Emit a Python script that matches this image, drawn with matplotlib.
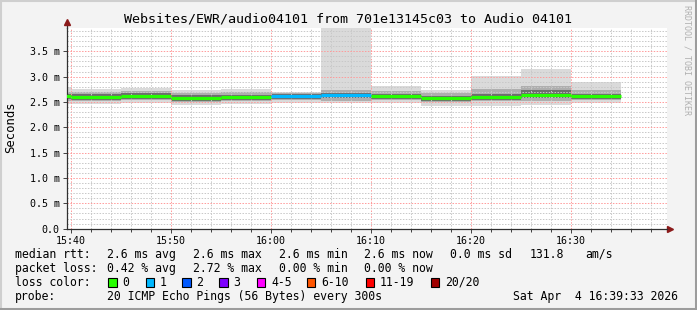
import matplotlib
matplotlib.use("Agg")
import matplotlib.pyplot as plt
from matplotlib.patches import Rectangle
from matplotlib.lines import Line2D

# 5 minute rounds, start minute after 15:00
slot_start = [35, 40, 45, 50, 55, 60, 65, 70, 75, 80, 85, 90]
slot_len = 5
# values in ms
median = [2.62, 2.60, 2.62, 2.57, 2.59, 2.61, 2.63, 2.61, 2.57, 2.60, 2.63, 2.61]
loss = [0, 0, 0, 0, 0, 1, 1, 0, 0, 0, 0, 0]
smoke_lo = [2.45, 2.46, 2.48, 2.44, 2.46, 2.47, 2.48, 2.47, 2.42, 2.42, 2.44, 2.47]
smoke_hi = [2.80, 2.75, 2.77, 2.73, 2.75, 2.70, 4.50, 2.81, 2.73, 3.01, 3.15, 2.90]
mid_lo = [2.52, 2.52, 2.54, 2.50, 2.52, 2.53, 2.52, 2.53, 2.49, 2.51, 2.52, 2.53]
mid_hi = [2.70, 2.69, 2.71, 2.67, 2.69, 2.67, 2.73, 2.72, 2.67, 2.76, 2.82, 2.74]
core_lo = [2.56, 2.54, 2.56, 2.52, 2.54, 2.56, 2.57, 2.55, 2.52, 2.54, 2.58, 2.56]
core_hi = [2.66, 2.65, 2.67, 2.63, 2.64, 2.65, 2.67, 2.65, 2.62, 2.66, 2.74, 2.66]

loss_labels = ["0", "1", "2", "3", "4-5", "6-10", "11-19", "20/20"]
loss_colors = ["#26ff00", "#00b8ff", "#0059ff", "#7e00ff", "#ff00ff", "#ff5500", "#ff0000", "#a10000"]

W, H = 697, 310
mono = "DejaVu Sans Mono"


def px(x):
    return x / W


def py(y):
    return 1 - y / H


fig = plt.figure(figsize=(W / 100, H / 100), dpi=100, facecolor="#f3f3f3")

# plot area in pixels
left, right, top, bottom = 66.5, 666.5, 28.3, 228.7
ax = fig.add_axes([px(left), py(bottom), px(right - left), (bottom - top) / H])
ax.set_facecolor("white")
ax.set_xlim(39.58, 99.58)
ax.set_ylim(0, 3.953)

# smoke
edges = slot_start + [slot_start[-1] + slot_len]
ax.fill_between(edges, smoke_lo + [smoke_lo[-1]], smoke_hi + [smoke_hi[-1]],
                step="post", color="#dadada", lw=0, zorder=1)
ax.fill_between(edges, mid_lo + [mid_lo[-1]], mid_hi + [mid_hi[-1]],
                step="post", color="#aeaeae", lw=0, zorder=1)
ax.fill_between(edges, core_lo + [core_lo[-1]], core_hi + [core_hi[-1]],
                step="post", color="#6e6e6e", lw=0, zorder=1)

# median line coloured by loss
for s, m, l in zip(slot_start, median, loss):
    ax.hlines(m, s, s + slot_len, color=loss_colors[l], lw=2.3, zorder=3)

# grid and ticks
ax.set_xticks(range(40, 100, 10))
ax.set_xticks(range(40, 100, 2), minor=True)
ax.set_xticklabels(["15:40", "15:50", "16:00", "16:10", "16:20", "16:30"])
yt = [0, 0.5, 1.0, 1.5, 2.0, 2.5, 3.0, 3.5]
ax.set_yticks(yt)
ax.set_yticks([i / 10 for i in range(0, 40)], minor=True)
ax.set_yticklabels(["0.0"] + ["%.1f m" % v for v in yt[1:]])
ax.set_axisbelow("line")
ax.grid(which="minor", color="#c8c8c8", lw=0.7, ls=(0, (1.5, 1.5)))
ax.grid(which="major", color="#ff9a9a", lw=0.7, ls=(0, (1.5, 1.5)))
ax.tick_params(axis="both", which="major", labelsize=7.2, length=3, width=0.7,
               color="#404040", pad=2)
ax.tick_params(axis="x", which="minor", length=2, width=0.7, color="#404040")
ax.tick_params(axis="y", which="minor", length=0)
for lab in ax.get_xticklabels() + ax.get_yticklabels():
    lab.set_fontfamily(mono)
for s in ["top", "right"]:
    ax.spines[s].set_visible(False)
for s in ["left", "bottom"]:
    ax.spines[s].set_color("#303030")
    ax.spines[s].set_linewidth(0.9)

# axis arrows
ax.plot([0, 0], [1, 1.025], transform=ax.transAxes, color="#303030", lw=0.9, clip_on=False)
ax.plot([1, 1.004], [0, 0], transform=ax.transAxes, color="#303030", lw=0.9, clip_on=False)
ax.plot([0], [1.03], transform=ax.transAxes, marker="^", ms=5, color="#8b1a1a", clip_on=False)
ax.plot([1.006], [0], transform=ax.transAxes, marker=">", ms=5, color="#8b1a1a", clip_on=False)

fig.text(px(348.5), py(19), "Websites/EWR/audio04101 from 701e13145c03 to Audio 04101",
         ha="center", va="center", fontsize=9.6, family=mono)
fig.text(px(11), py(127), "Seconds", rotation=90, ha="center", va="center",
         fontsize=8.8, family=mono)
fig.text(px(687), py(60), "RRDTOOL / TOBI OETIKER", rotation=-90, ha="center", va="center",
         fontsize=6, family=mono, color="#b0b0b0")

# legend rows
fs = 8.3
rows = [
    (254.3, [(16, "median rtt:"), (107.3, "2.6 ms avg"), (193.3, "2.6 ms max"),
             (279.3, "2.6 ms min"), (365, "2.6 ms now"), (451, "0.0 ms sd"),
             (530.7, "131.8"), (586, "am/s")]),
    (268.3, [(16, "packet loss:"), (107.3, "0.42 % avg"), (193.3, "2.72 % max"),
             (279.3, "0.00 % min"), (365, "0.00 % now")]),
    (282.3, [(16, "loss color:")]),
    (296.3, [(16, "probe:"), (107.3, "20 ICMP Echo Pings (56 Bytes) every 300s"),
             (513.3, "Sat Apr  4 16:39:33 2026")]),
]
for y, items in rows:
    for x, t in items:
        fig.text(px(x - 0.7), py(y), t, ha="left", va="center", fontsize=fs, family=mono)

box_x = [108.3, 145.7, 182.3, 219.3, 256.7, 306.7, 365.7, 430.7]
for bx, lab, c in zip(box_x, loss_labels, loss_colors):
    fig.patches.append(Rectangle((px(bx), py(286.7)), px(8.3), 8.3 / H, facecolor=c,
                                 edgecolor="black", lw=0.8, transform=fig.transFigure))
    fig.text(px(bx + 14.3), py(282.3), lab, ha="left", va="center", fontsize=fs, family=mono)

# image frame
fig.add_artist(Line2D([0, 1], [py(1), py(1)], color="#cfcfcf", lw=1.5))
fig.add_artist(Line2D([px(1), px(1)], [0, 1], color="#cfcfcf", lw=1.5))
fig.add_artist(Line2D([0, 1], [py(309), py(309)], color="#9c9c9c", lw=2.2))
fig.add_artist(Line2D([px(696), px(696)], [0, 1], color="#9c9c9c", lw=2.2))

fig.savefig("out.png", dpi=100, facecolor=fig.get_facecolor())
